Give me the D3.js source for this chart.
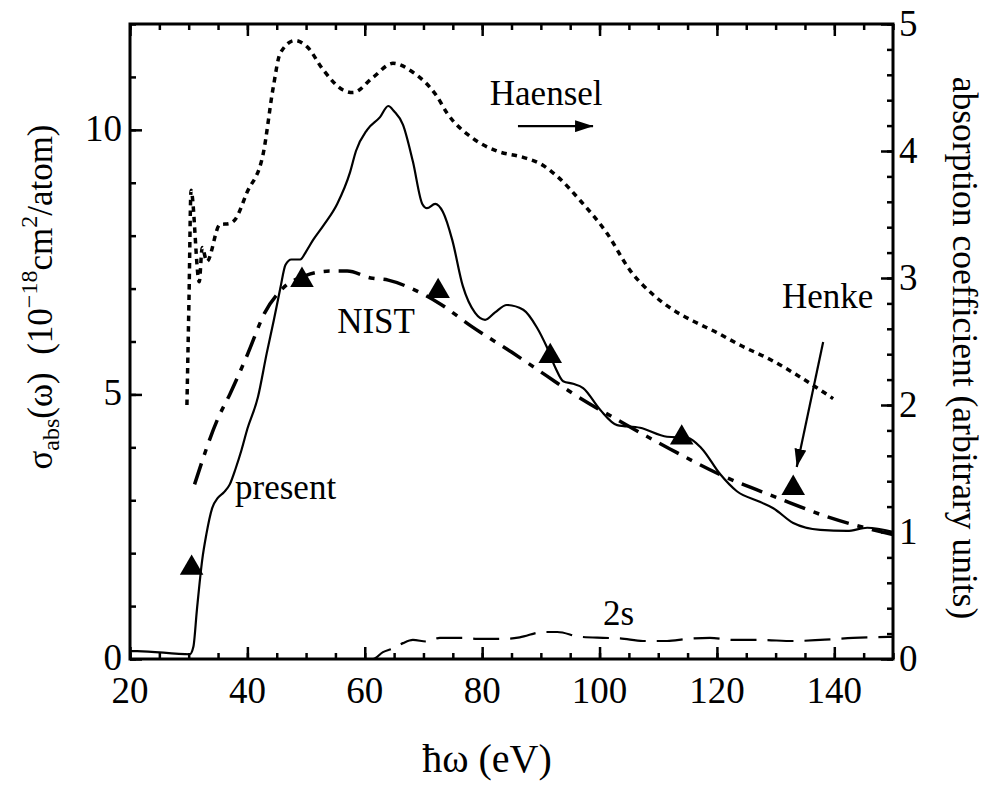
<!DOCTYPE html>
<html>
<head>
<meta charset="utf-8">
<script src="https://cdn.jsdelivr.net/npm/d3@7"></script>
</head>
<body style="margin:0">
<svg id="chart" width="987" height="787"></svg>
<script>
// present calculation (left axis, 10^-18 cm^2/atom)
const presentE = [20, 21.2, 30.2, 30.8, 31.4, 32.3, 33, 34, 35, 36, 37, 38, 39, 40, 41.8, 43.3, 44.5, 45.6, 46.5,
  47.5, 49, 50, 51.2, 53, 55.3, 57.5, 58.5, 60.4, 62.6, 64, 65, 66.5, 68.2, 69.8, 70.6, 72, 73.3, 74.9, 76.7,
  78.8, 80.5, 82.2, 84.2, 87, 89.3, 91, 92.5, 93.8, 95.5, 97.2, 100.1, 103, 106.9, 111.5, 115, 117.4, 120.5,
  123.4, 127.3, 129.6, 133, 137.6, 142.2, 145.6, 150];
const presentV = [0.15, 0.15, 0.09, 0.23, 0.93, 1.87, 2.35, 2.85, 3.05, 3.15, 3.3, 3.6, 3.95, 4.35, 4.95, 5.78, 6.4, 7.0, 7.45,
  7.55, 7.55, 7.7, 7.92, 8.2, 8.6, 9.2, 9.6, 10.0, 10.24, 10.45, 10.35, 10.1, 9.4, 8.6, 8.52, 8.6, 8.45, 7.92, 7.05,
  6.54, 6.41, 6.55, 6.69, 6.6, 6.27, 5.9, 5.5, 5.25, 5.2, 5.12, 4.71, 4.42, 4.37, 4.2, 4.18, 3.98, 3.5,
  3.17, 2.97, 2.85, 2.57, 2.44, 2.42, 2.48, 2.4];

// NIST (left axis)
const nistE = [31, 35, 37, 40, 43, 46, 50, 54, 57, 61, 64, 68, 73, 78, 85, 91, 95, 104, 112, 121, 130, 139, 150];
const nistV = [3.3, 4.55, 5.0, 5.75, 6.55, 7.0, 7.25, 7.33, 7.33, 7.2, 7.16, 7.0, 6.7, 6.3, 5.8, 5.35, 5.05, 4.46,
  3.97, 3.46, 3.06, 2.68, 2.35];

// Haensel (right axis, arbitrary units)
const haenselE = [29.7, 30.05, 30.4, 31.8, 32.3, 33.1, 35.3, 37.0, 37.9, 39.9, 42.7, 44.4, 45.6, 48.1, 50.2, 52.9,
  56.3, 58, 61.4, 64.8, 68.2, 72.3, 74, 78.4, 82.5, 87, 89.9, 92.8, 96.7, 101.3, 105.2, 109.1, 112.5, 116,
  120, 124, 129, 134.2, 139.8];
const haenselR = [2.0, 2.83, 3.69, 2.97, 3.24, 3.13, 3.42, 3.43, 3.46, 3.67, 3.98, 4.5, 4.77, 4.87, 4.82, 4.64,
  4.48, 4.46, 4.58, 4.69, 4.62, 4.43, 4.3, 4.1, 4.0, 3.95, 3.9, 3.8, 3.61, 3.35, 3.06, 2.87, 2.75, 2.66,
  2.57, 2.47, 2.36, 2.22, 2.05];

// Henke (left axis, triangles)
const henkeE = [30.5, 49.3, 72.5, 91.6, 114, 133];
const henkeV = [1.72, 7.16, 6.95, 5.72, 4.18, 3.23];

// 2s partial cross section (left axis)
const s2E = [60.5, 61.4, 63.1, 64.8, 66.5, 68.2, 70.6, 72.8, 76.7, 79.1, 83.6, 86.4, 90.4, 92.8, 96.7, 100.6,
  103.5, 107.4, 111.5, 114.9, 118.8, 122.7, 127.3, 133, 137.6, 143.2, 150];
const s2V = [0, 0.0, 0.13, 0.2, 0.3, 0.36, 0.33, 0.4, 0.4, 0.38, 0.38, 0.41, 0.51, 0.51, 0.42, 0.4,
  0.39, 0.34, 0.34, 0.38, 0.4, 0.36, 0.36, 0.34, 0.36, 0.4, 0.42];

const xMajor = [20, 40, 60, 80, 100, 120, 140];
const xMinor = d3.range(20, 151, 5);
const yMajor = [0, 5, 10];
const yMinor = d3.range(0, 13, 1);
const rMajor = [0, 1, 2, 3, 4, 5];
const rMinor = d3.range(0, 5.01, 0.2);

const svg = d3.select("#chart");
const pLeft = 130, pRight = 893, pTop = 24, pBottom = 659;

const x = d3.scaleLinear().domain([20, 150]).range([pLeft, pRight]);
const y = d3.scaleLinear().domain([0, 12]).range([pBottom, pTop]);
const yR = d3.scaleLinear().domain([0, 5]).range([pBottom, pTop]);

const defs = svg.append("defs");
defs.append("clipPath").attr("id", "plot")
  .append("rect").attr("x", pLeft).attr("y", pTop).attr("width", pRight - pLeft).attr("height", pBottom - pTop);

// tick marks only (labels are drawn as separate text below)
function ticksOnly(g) {
  g.select(".domain").remove();
  g.selectAll(".tick text").remove();
  g.selectAll(".tick line").attr("stroke", "#000").attr("stroke-width", 2.5);
}

svg.append("g").attr("transform", "translate(0," + pBottom + ")")
  .call(d3.axisBottom(x).tickValues(xMinor).tickSize(-6)).call(ticksOnly);
svg.append("g").attr("transform", "translate(0," + pTop + ")")
  .call(d3.axisTop(x).tickValues(xMinor).tickSize(-6)).call(ticksOnly);
svg.append("g").attr("transform", "translate(" + pLeft + ",0)")
  .call(d3.axisLeft(y).tickValues(yMinor).tickSize(-6)).call(ticksOnly);
svg.append("g").attr("transform", "translate(" + pRight + ",0)")
  .call(d3.axisRight(yR).tickValues(rMinor).tickSize(-6)).call(ticksOnly);
svg.append("g").attr("transform", "translate(0," + pBottom + ")")
  .call(d3.axisBottom(x).tickValues(xMajor).tickSize(-12)).call(ticksOnly);
svg.append("g").attr("transform", "translate(0," + pTop + ")")
  .call(d3.axisTop(x).tickValues(xMajor).tickSize(-12)).call(ticksOnly);
svg.append("g").attr("transform", "translate(" + pLeft + ",0)")
  .call(d3.axisLeft(y).tickValues(yMajor).tickSize(-12)).call(ticksOnly);
svg.append("g").attr("transform", "translate(" + pRight + ",0)")
  .call(d3.axisRight(yR).tickValues(rMajor).tickSize(-12)).call(ticksOnly);

// tick labels
svg.selectAll(".xlab").data(xMajor).enter().append("text")
  .attr("x", d => x(d)).attr("y", pBottom + 44).attr("text-anchor", "middle")
  .attr("font-size", 37).text(d => d);
svg.selectAll(".ylab").data(yMajor).enter().append("text")
  .attr("x", pLeft - 8).attr("y", d => y(d) + 11).attr("text-anchor", "end")
  .attr("font-size", 37).text(d => d);
svg.selectAll(".rlab").data(rMajor).enter().append("text")
  .attr("x", pRight + 6).attr("y", d => yR(d) + 12).attr("text-anchor", "start")
  .attr("font-size", 37).text(d => d);

// frame
svg.append("rect").attr("x", pLeft).attr("y", pTop).attr("width", pRight - pLeft).attr("height", pBottom - pTop)
  .attr("fill", "none").attr("stroke", "#000").attr("stroke-width", 3);

const plot = svg.append("g").attr("clip-path", "url(#plot)");

function curve(es, vs, sy) {
  return d3.line().x(d => x(d[0])).y(d => sy(d[1])).curve(d3.curveMonotoneX)(d3.zip(es, vs));
}

plot.append("path").attr("d", curve(haenselE, haenselR, yR))
  .attr("fill", "none").attr("stroke", "#000").attr("stroke-width", 3.5).attr("stroke-dasharray", "5.5,5");
plot.append("path").attr("d", curve(nistE, nistV, y))
  .attr("fill", "none").attr("stroke", "#000").attr("stroke-width", 3.5).attr("stroke-dasharray", "22,9,6,9");
plot.append("path").attr("d", curve(s2E, s2V, y))
  .attr("fill", "none").attr("stroke", "#000").attr("stroke-width", 2.2).attr("stroke-dasharray", "26,11");
plot.append("path").attr("d", curve(presentE, presentV, y))
  .attr("fill", "none").attr("stroke", "#000").attr("stroke-width", 2.2);

plot.selectAll(".henke").data(d3.zip(henkeE, henkeV)).enter().append("path")
  .attr("class", "henke")
  .attr("transform", d => "translate(" + x(d[0]) + "," + y(d[1]) + ")")
  .attr("d", d3.symbol().type(d3.symbolTriangle).size(240))
  .attr("fill", "#000");

// annotations
defs.append("marker").attr("id", "head").attr("viewBox", "0 0 18 12")
  .attr("refX", 18).attr("refY", 6).attr("markerWidth", 18).attr("markerHeight", 12)
  .attr("markerUnits", "userSpaceOnUse").attr("orient", "auto")
  .append("path").attr("d", "M0,0L18,6L0,12Z").attr("fill", "#000");

function label(txt, e, v, size) {
  svg.append("text").attr("x", x(e)).attr("y", y(v)).attr("font-size", size).text(txt);
}
label("Haensel", 81.3, 10.47, 35);
label("NIST", 55.3, 6.16, 35);
label("Henke", 131.1, 6.63, 35);
label("present", 37.9, 3.02, 35);
label("2s", 100.6, 0.64, 35);

svg.append("line").attr("x1", x(86.1)).attr("y1", y(10.07)).attr("x2", x(98.9)).attr("y2", y(10.07))
  .attr("stroke", "#000").attr("stroke-width", 2.2).attr("marker-end", "url(#head)");
svg.append("line").attr("x1", x(138.1)).attr("y1", y(5.99)).attr("x2", x(133.6)).attr("y2", y(3.63))
  .attr("stroke", "#000").attr("stroke-width", 2.2).attr("marker-end", "url(#head)");

// axis titles
svg.append("text").attr("x", 487).attr("y", 772).attr("text-anchor", "middle")
  .attr("font-size", 40).text("ħω (eV)");

const yt = svg.append("text").attr("transform", "translate(52,297) rotate(-90)")
  .attr("text-anchor", "middle").attr("font-size", 35);
yt.append("tspan").text("σ");
yt.append("tspan").attr("dy", 7).attr("font-size", 24).text("abs");
yt.append("tspan").attr("dy", -7).text("(ω)\u00a0\u00a0(10");
yt.append("tspan").attr("dy", -15).attr("font-size", 24).text("−18");
yt.append("tspan").attr("dy", 15).text("cm");
yt.append("tspan").attr("dy", -15).attr("font-size", 24).text("2");
yt.append("tspan").attr("dy", 15).text("/atom)");

svg.append("text").attr("transform", "translate(953,348) rotate(90)")
  .attr("text-anchor", "middle").attr("font-size", 35.5)
  .text("absorption coefficient (arbitrary units)");

svg.selectAll("text").attr("font-family", "Liberation Serif").attr("fill", "#000");
</script>
</body>
</html>
